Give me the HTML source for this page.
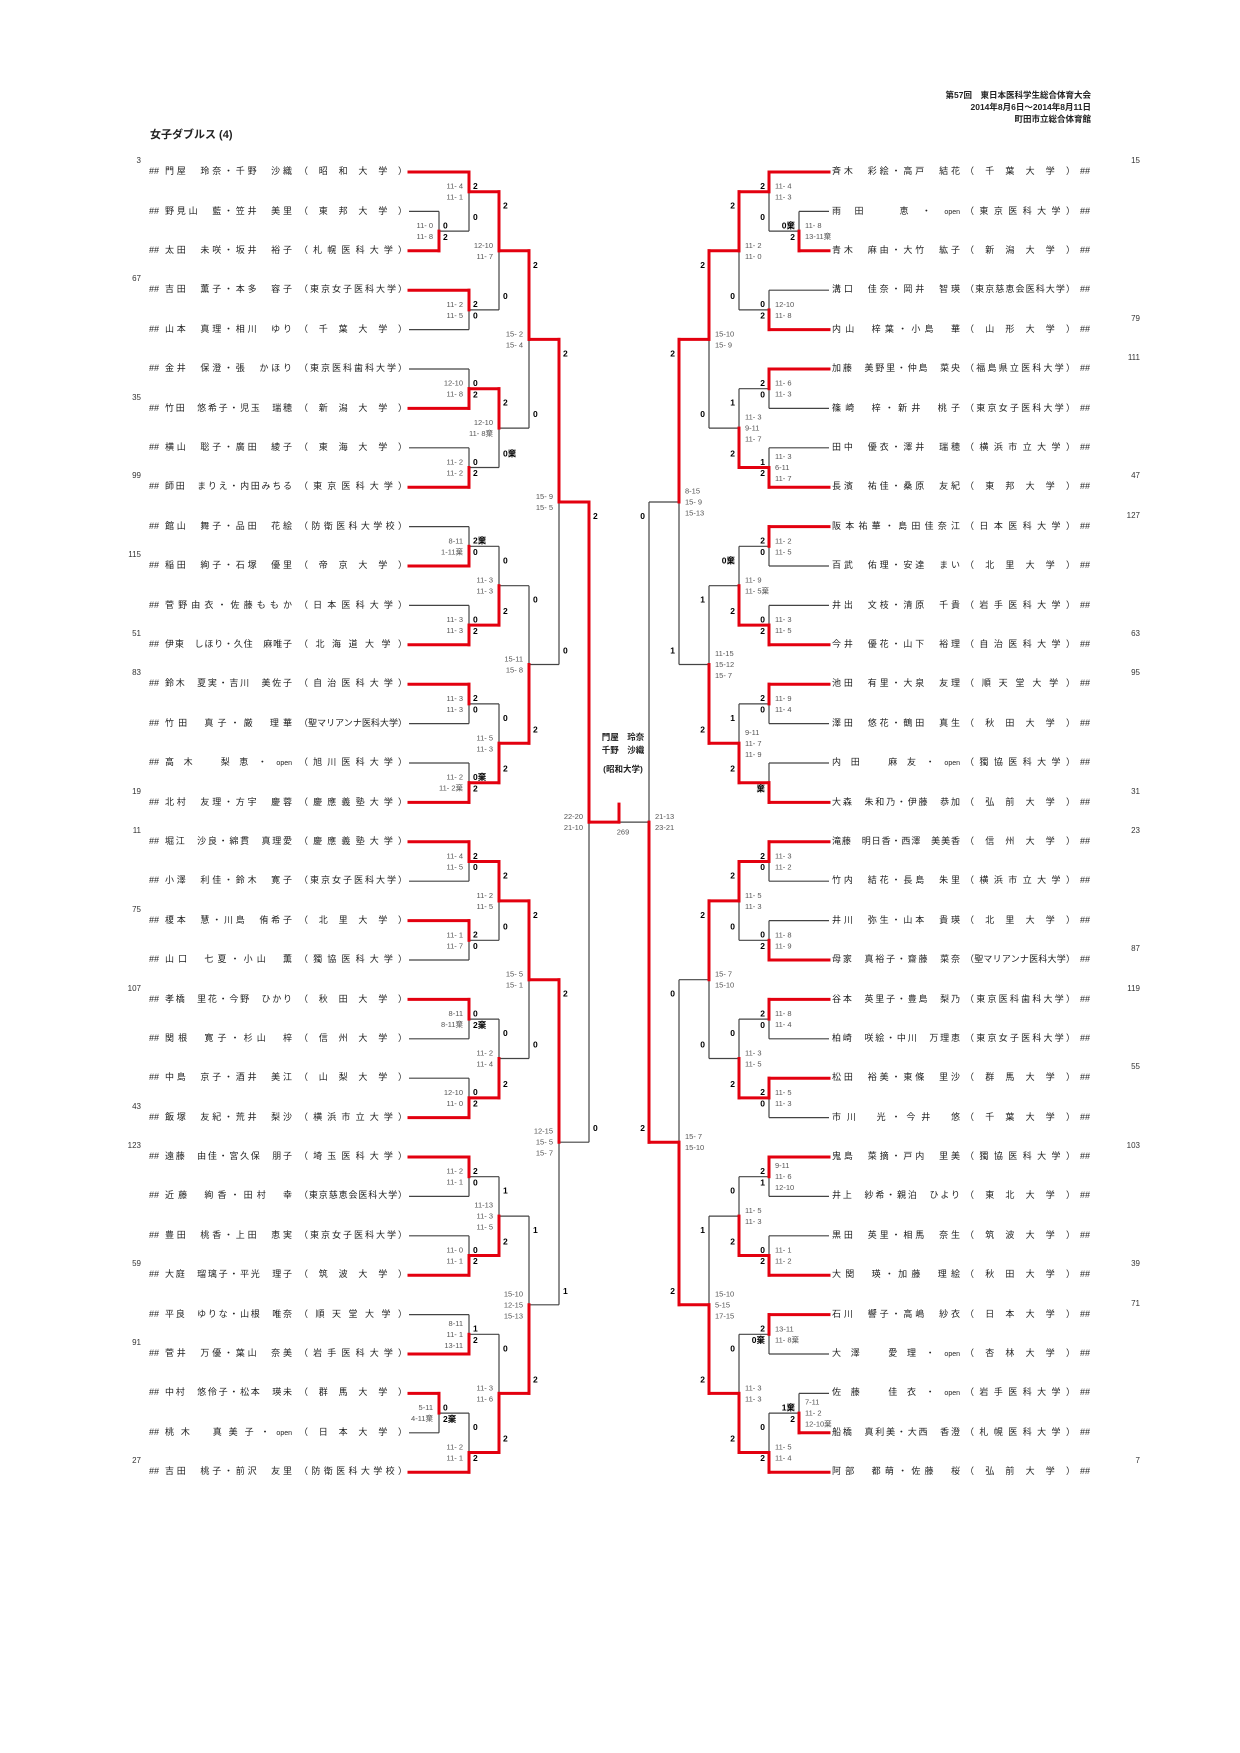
<!DOCTYPE html>
<html><head><meta charset="utf-8">
<style>
html,body{margin:0;padding:0;background:#fff;}
body{width:1240px;height:1753px;position:relative;overflow:hidden;font-family:"Liberation Sans","Noto Sans CJK JP",sans-serif;color:#222;}
#s{position:absolute;left:0;top:0;}
.col{position:absolute;top:152.3px;}
#cl{left:149px;} #cr{left:832px;}
.r{height:39.4px;line-height:39.4px;position:relative;font-size:9px;}
.r i,.r b,.r u,.r s{position:absolute;top:0;font-style:normal;font-weight:normal;text-decoration:none;display:block;}
.r b,.r u{text-align:justify;text-align-last:justify;}
#cl i{left:0;} #cl b{left:16px;width:127px;} #cl u{left:150px;width:108px;}
#cr b{left:0;width:128px;} #cr u{left:133px;width:110px;} #cr i{left:248px;}
.r s{font-size:8px;line-height:10px;top:4px;width:26px;text-align:right;color:#333;}
#cl s{left:-34px;} #cr s{left:282px;}
.o{font-size:7px;}
.hd{position:absolute;right:149px;font-size:8.5px;font-weight:bold;text-align:right;}
svg text{font-family:"Liberation Sans","Noto Sans CJK JP",sans-serif;dominant-baseline:central;}
.sc{font-size:7.5px;fill:#555;}
.ct{font-size:8.5px;font-weight:bold;fill:#000;}
</style></head><body>
<div class="hd" style="top:89px">第57回　東日本医科学生総合体育大会</div>
<div class="hd" style="top:101px">2014年8月6日～2014年8月11日</div>
<div class="hd" style="top:113px">町田市立総合体育館</div>
<div style="position:absolute;left:150px;top:126px;font-size:11px;font-weight:bold;">女子ダブルス (4)</div>

<div class="col" id="cl">
<div class="r"><s>3</s><i>##</i><b>門屋　玲奈・千野　沙織</b><u>（昭和大学）</u></div>
<div class="r"><i>##</i><b>野見山　藍・笠井　美里</b><u>（東邦大学）</u></div>
<div class="r"><i>##</i><b>太田　未咲・坂井　裕子</b><u>（札幌医科大学）</u></div>
<div class="r"><s>67</s><i>##</i><b>吉田　薫子・本多　容子</b><u>（東京女子医科大学）</u></div>
<div class="r"><i>##</i><b>山本　真理・相川　ゆり</b><u>（千葉大学）</u></div>
<div class="r"><i>##</i><b>金井　保澄・張　かほり</b><u>（東京医科歯科大学）</u></div>
<div class="r"><s>35</s><i>##</i><b>竹田　悠希子・児玉　瑞穂</b><u>（新潟大学）</u></div>
<div class="r"><i>##</i><b>横山　聡子・廣田　綾子</b><u>（東海大学）</u></div>
<div class="r"><s>99</s><i>##</i><b>師田　まりえ・内田みちる</b><u>（東京医科大学）</u></div>
<div class="r"><i>##</i><b>館山　舞子・品田　花絵</b><u>（防衛医科大学校）</u></div>
<div class="r"><s>115</s><i>##</i><b>稲田　絢子・石塚　優里</b><u>（帝京大学）</u></div>
<div class="r"><i>##</i><b>菅野由衣・佐藤ももか</b><u>（日本医科大学）</u></div>
<div class="r"><s>51</s><i>##</i><b>伊東　しほり・久住　麻唯子</b><u>（北海道大学）</u></div>
<div class="r"><s>83</s><i>##</i><b>鈴木　夏実・吉川　美佐子</b><u>（自治医科大学）</u></div>
<div class="r"><i>##</i><b>竹田　真子・厳　理華</b><u>（聖マリアンナ医科大学）</u></div>
<div class="r"><i>##</i><b>高木　梨恵・<span class="o">open</span></b><u>（旭川医科大学）</u></div>
<div class="r"><s>19</s><i>##</i><b>北村　友理・方宇　慶蓉</b><u>（慶應義塾大学）</u></div>
<div class="r"><s>11</s><i>##</i><b>堀江　沙良・綿貫　真理愛</b><u>（慶應義塾大学）</u></div>
<div class="r"><i>##</i><b>小澤　利佳・鈴木　寛子</b><u>（東京女子医科大学）</u></div>
<div class="r"><s>75</s><i>##</i><b>榎本　慧・川島　侑希子</b><u>（北里大学）</u></div>
<div class="r"><i>##</i><b>山口　七夏・小山　薫</b><u>（獨協医科大学）</u></div>
<div class="r"><s>107</s><i>##</i><b>孝橋　里花・今野　ひかり</b><u>（秋田大学）</u></div>
<div class="r"><i>##</i><b>関根　寛子・杉山　梓</b><u>（信州大学）</u></div>
<div class="r"><i>##</i><b>中島　京子・酒井　美江</b><u>（山梨大学）</u></div>
<div class="r"><s>43</s><i>##</i><b>飯塚　友紀・荒井　梨沙</b><u>（横浜市立大学）</u></div>
<div class="r"><s>123</s><i>##</i><b>遠藤　由佳・宮久保　朋子</b><u>（埼玉医科大学）</u></div>
<div class="r"><i>##</i><b>近藤　絢香・田村　幸</b><u>（東京慈恵会医科大学）</u></div>
<div class="r"><i>##</i><b>豊田　桃香・上田　恵実</b><u>（東京女子医科大学）</u></div>
<div class="r"><s>59</s><i>##</i><b>大庭　瑠璃子・平光　理子</b><u>（筑波大学）</u></div>
<div class="r"><i>##</i><b>平良　ゆりな・山根　唯奈</b><u>（順天堂大学）</u></div>
<div class="r"><s>91</s><i>##</i><b>菅井　万優・葉山　奈美</b><u>（岩手医科大学）</u></div>
<div class="r"><i>##</i><b>中村　悠伶子・松本　瑛未</b><u>（群馬大学）</u></div>
<div class="r"><i>##</i><b>桃木　真美子・<span class="o">open</span></b><u>（日本大学）</u></div>
<div class="r"><s>27</s><i>##</i><b>吉田　桃子・前沢　友里</b><u>（防衛医科大学校）</u></div>
</div>

<div class="col" id="cr">
<div class="r"><s>15</s><b>斉木　彩絵・高戸　結花</b><u>（千葉大学）</u><i>##</i></div>
<div class="r"><b>雨田　恵・<span class="o">open</span></b><u>（東京医科大学）</u><i>##</i></div>
<div class="r"><b>青木　麻由・大竹　紘子</b><u>（新潟大学）</u><i>##</i></div>
<div class="r"><b>溝口　佳奈・岡井　智瑛</b><u>（東京慈恵会医科大学）</u><i>##</i></div>
<div class="r"><s>79</s><b>内山　梓葉・小島　華</b><u>（山形大学）</u><i>##</i></div>
<div class="r"><s>111</s><b>加藤　美野里・仲島　菜央</b><u>（福島県立医科大学）</u><i>##</i></div>
<div class="r"><b>篠崎　梓・新井　桃子</b><u>（東京女子医科大学）</u><i>##</i></div>
<div class="r"><b>田中　優衣・澤井　瑞穂</b><u>（横浜市立大学）</u><i>##</i></div>
<div class="r"><s>47</s><b>長濱　祐佳・桑原　友紀</b><u>（東邦大学）</u><i>##</i></div>
<div class="r"><s>127</s><b>阪本祐華・島田佳奈江</b><u>（日本医科大学）</u><i>##</i></div>
<div class="r"><b>百武　佑理・安達　まい</b><u>（北里大学）</u><i>##</i></div>
<div class="r"><b>井出　文枝・清原　千貴</b><u>（岩手医科大学）</u><i>##</i></div>
<div class="r"><s>63</s><b>今井　優花・山下　裕理</b><u>（自治医科大学）</u><i>##</i></div>
<div class="r"><s>95</s><b>池田　有里・大泉　友理</b><u>（順天堂大学）</u><i>##</i></div>
<div class="r"><b>澤田　悠花・鶴田　真生</b><u>（秋田大学）</u><i>##</i></div>
<div class="r"><b>内田　麻友・<span class="o">open</span></b><u>（獨協医科大学）</u><i>##</i></div>
<div class="r"><s>31</s><b>大森　朱和乃・伊藤　恭加</b><u>（弘前大学）</u><i>##</i></div>
<div class="r"><s>23</s><b>滝藤　明日香・西澤　美美香</b><u>（信州大学）</u><i>##</i></div>
<div class="r"><b>竹内　結花・長島　朱里</b><u>（横浜市立大学）</u><i>##</i></div>
<div class="r"><b>井川　弥生・山本　貴瑛</b><u>（北里大学）</u><i>##</i></div>
<div class="r"><s>87</s><b>母家　真裕子・齋藤　菜奈</b><u>（聖マリアンナ医科大学）</u><i>##</i></div>
<div class="r"><s>119</s><b>谷本　英里子・豊島　梨乃</b><u>（東京医科歯科大学）</u><i>##</i></div>
<div class="r"><b>柏崎　咲絵・中川　万理恵</b><u>（東京女子医科大学）</u><i>##</i></div>
<div class="r"><s>55</s><b>松田　裕美・東條　里沙</b><u>（群馬大学）</u><i>##</i></div>
<div class="r"><b>市川　光・今井　悠</b><u>（千葉大学）</u><i>##</i></div>
<div class="r"><s>103</s><b>鬼島　菜摘・戸内　里美</b><u>（獨協医科大学）</u><i>##</i></div>
<div class="r"><b>井上　紗希・親泊　ひより</b><u>（東北大学）</u><i>##</i></div>
<div class="r"><b>黒田　英里・相馬　奈生</b><u>（筑波大学）</u><i>##</i></div>
<div class="r"><s>39</s><b>大関　瑛・加藤　理絵</b><u>（秋田大学）</u><i>##</i></div>
<div class="r"><s>71</s><b>石川　響子・高嶋　紗衣</b><u>（日本大学）</u><i>##</i></div>
<div class="r"><b>大澤　愛理・<span class="o">open</span></b><u>（杏林大学）</u><i>##</i></div>
<div class="r"><b>佐藤　佳衣・<span class="o">open</span></b><u>（岩手医科大学）</u><i>##</i></div>
<div class="r"><b>船橋　真利美・大西　香澄</b><u>（札幌医科大学）</u><i>##</i></div>
<div class="r"><s>7</s><b>阿部　都萌・佐藤　桜</b><u>（弘前大学）</u><i>##</i></div>
</div>

<svg id="s" width="1240" height="1753"></svg>
<div style="position:absolute;left:583px;top:731px;width:80px;text-align:center;font-size:8.5px;font-weight:bold;line-height:13px;">門屋　玲奈<br>千野　沙織<br><span style="display:inline-block;margin-top:6px">(昭和大学)</span></div>

<script>
const Y=i=>172+39.4*i;
function M(a,b,w,x,s,ca,cb,o){return{a:a,b:b,w:w,x:x,s:s,ca:ca,cb:cb,o:o};}
function lay(n){if(typeof n=='number')return Y(n);n.ya=lay(n.a);n.yb=lay(n.b);n.y=n.o?(Y(n.o[0])+Y(n.o[1]))/2:(n.ya+n.yb)/2;return n.y;}
let blk='',red='',txt='';
function L(x1,y1,x2,y2,r){const s='<line x1="'+x1+'" y1="'+y1.toFixed(1)+'" x2="'+x2+'" y2="'+y2.toFixed(1)+'"/>';if(r)red+=s;else blk+=s;}
function T(x,y,s,c,a){txt+='<text x="'+x+'" y="'+y.toFixed(1)+'" class="'+c+'" text-anchor="'+a+'">'+s+'</text>';}
function draw(n,side){
 if(typeof n=='number')return;
 const lx=side<0?409:829;
 [['a',n.a,n.ya],['b',n.b,n.yb]].forEach(function(q){const c=q[1];const sx=typeof c=='number'?lx:c.x;L(sx,q[2],n.x,q[2],n.w==q[0]);draw(c,side);});
 L(n.x,n.ya,n.x,n.yb,false);
 const yw=n.w=='a'?n.ya:n.yb;L(n.x,yw,n.x,n.y,true);
 const cx=side<0?n.x+4:n.x-4,ca=side<0?'start':'end';
 if(n.ca)T(cx,n.ya+14,n.ca,'ct',ca);
 if(n.cb)T(cx,n.yb-14,n.cb,'ct',ca);
 const sx=side<0?n.x-6:n.x+6,sa=side<0?'end':'start';
 n.s.forEach(function(t,k){T(sx,n.y+(k-(n.s.length-1)/2)*11,t,'sc',sa);});
}
const PI1=M(1,2,'b',439,['11- 0','11- 8'],'0','2');
const A=M(0,PI1,'a',469,['11- 4','11- 1'],'2','0',[0,1]);
const B=M(3,4,'a',469,['11- 2','11- 5'],'2','0');
const AB=M(A,B,'a',499,['12-10','11- 7'],'2','0');
const C=M(5,6,'b',469,['12-10','11- 8'],'0','2');
const D=M(7,8,'b',469,['11- 2','11- 2'],'0','2');
const CD=M(C,D,'a',499,['12-10','11- 8棄'],'2','0棄');
const Q1=M(AB,CD,'a',529,['15- 2','15- 4'],'2','0');
const E=M(9,10,'b',469,['8-11','1-11棄'],'2棄','0');
const F=M(11,12,'b',469,['11- 3','11- 3'],'0','2');
const EF=M(E,F,'b',499,['11- 3','11- 3'],'0','2');
const G=M(13,14,'a',469,['11- 3','11- 3'],'2','0');
const H=M(15,16,'b',469,['11- 2','11- 2棄'],'0棄','2');
const GH=M(G,H,'b',499,['11- 5','11- 3'],'0','2');
const Q2=M(EF,GH,'b',529,['15-11','15- 8'],'0','2');
const S1=M(Q1,Q2,'a',559,['15- 9','15- 5'],'2','0');
const I=M(17,18,'a',469,['11- 4','11- 5'],'2','0');
const J=M(19,20,'a',469,['11- 1','11- 7'],'2','0');
const IJ=M(I,J,'a',499,['11- 2','11- 5'],'2','0');
const K=M(21,22,'a',469,['8-11','8-11棄'],'0','2棄');
const Lm=M(23,24,'b',469,['12-10','11- 0'],'0','2');
const KL=M(K,Lm,'b',499,['11- 2','11- 4'],'0','2');
const Q3=M(IJ,KL,'a',529,['15- 5','15- 1'],'2','0');
const N=M(25,26,'a',469,['11- 2','11- 1'],'2','0');
const O=M(27,28,'b',469,['11- 0','11- 1'],'0','2');
const NO=M(N,O,'b',499,['11-13','11- 3','11- 5'],'1','2');
const P=M(29,30,'b',469,['8-11','11- 1','13-11'],'1','2');
const PI2=M(31,32,'a',439,['5-11','4-11棄'],'0','2棄');
const R=M(PI2,33,'b',469,['11- 2','11- 1'],'0','2',[32,33]);
const PR=M(P,R,'b',499,['11- 3','11- 6'],'0','2');
const Q4=M(NO,PR,'b',529,['15-10','12-15','15-13'],'1','2');
const S2=M(Q3,Q4,'a',559,['12-15','15- 5','15- 7'],'2','1');
const LS=M(S1,S2,'a',589,['22-20','21-10'],'2','0');
const rPI1=M(1,2,'b',799,['11- 8','13-11棄'],'0棄','2');
const rA=M(0,rPI1,'a',769,['11- 4','11- 3'],'2','0',[0,1]);
const rB=M(3,4,'b',769,['12-10','11- 8'],'0','2');
const rAB=M(rA,rB,'a',739,['11- 2','11- 0'],'2','0');
const rC=M(5,6,'a',769,['11- 6','11- 3'],'2','0');
const rD=M(7,8,'b',769,['11- 3','6-11','11- 7'],'1','2');
const rCD=M(rC,rD,'b',739,['11- 3','9-11','11- 7'],'1','2');
const rQ1=M(rAB,rCD,'a',709,['15-10','15- 9'],'2','0');
const rE=M(9,10,'a',769,['11- 2','11- 5'],'2','0');
const rF=M(11,12,'b',769,['11- 3','11- 5'],'0','2');
const rEF=M(rE,rF,'b',739,['11- 9','11- 5棄'],'0棄','2');
const rG=M(13,14,'a',769,['11- 9','11- 4'],'2','0');
const rH=M(15,16,'b',769,[],'','棄');
const rGH=M(rG,rH,'b',739,['9-11','11- 7','11- 9'],'1','2');
const rQ2=M(rEF,rGH,'b',709,['11-15','15-12','15- 7'],'1','2');
const rS1=M(rQ1,rQ2,'a',679,['8-15','15- 9','15-13'],'2','1');
const rI=M(17,18,'a',769,['11- 3','11- 2'],'2','0');
const rJ=M(19,20,'b',769,['11- 8','11- 9'],'0','2');
const rIJ=M(rI,rJ,'a',739,['11- 5','11- 3'],'2','0');
const rK=M(21,22,'a',769,['11- 8','11- 4'],'2','0');
const rL=M(23,24,'a',769,['11- 5','11- 3'],'2','0');
const rKL=M(rK,rL,'b',739,['11- 3','11- 5'],'0','2');
const rQ3=M(rIJ,rKL,'a',709,['15- 7','15-10'],'2','0');
const rN=M(25,26,'a',769,['9-11','11- 6','12-10'],'2','1');
const rO=M(27,28,'b',769,['11- 1','11- 2'],'0','2');
const rNO=M(rN,rO,'b',739,['11- 5','11- 3'],'0','2');
const rP=M(29,30,'a',769,['13-11','11- 8棄'],'2','0棄');
const rPI2=M(31,32,'b',799,['7-11','11- 2','12-10棄'],'1棄','2');
const rR=M(rPI2,33,'b',769,['11- 5','11- 4'],'0','2',[32,33]);
const rPR=M(rP,rR,'b',739,['11- 3','11- 3'],'0','2');
const rQ4=M(rNO,rPR,'b',709,['15-10','5-15','17-15'],'1','2');
const rS2=M(rQ3,rQ4,'b',679,['15- 7','15-10'],'0','2');
const RS=M(rS1,rS2,'b',649,['21-13','23-21'],'0','2');
lay(LS);lay(RS);
draw(LS,-1);draw(RS,1);
const Fy=LS.y;
L(589,Fy,619,Fy,true);L(619,Fy,649,RS.y,false);L(619,Fy-18,619,Fy,true);
T(623,Fy+10,'269','sc','middle');
document.getElementById('s').innerHTML='<g stroke="#444" stroke-width="1.2">'+blk+'</g><g stroke="#e3000f" stroke-width="3" stroke-linecap="square">'+red+'</g>'+txt;
</script>
</body></html>
